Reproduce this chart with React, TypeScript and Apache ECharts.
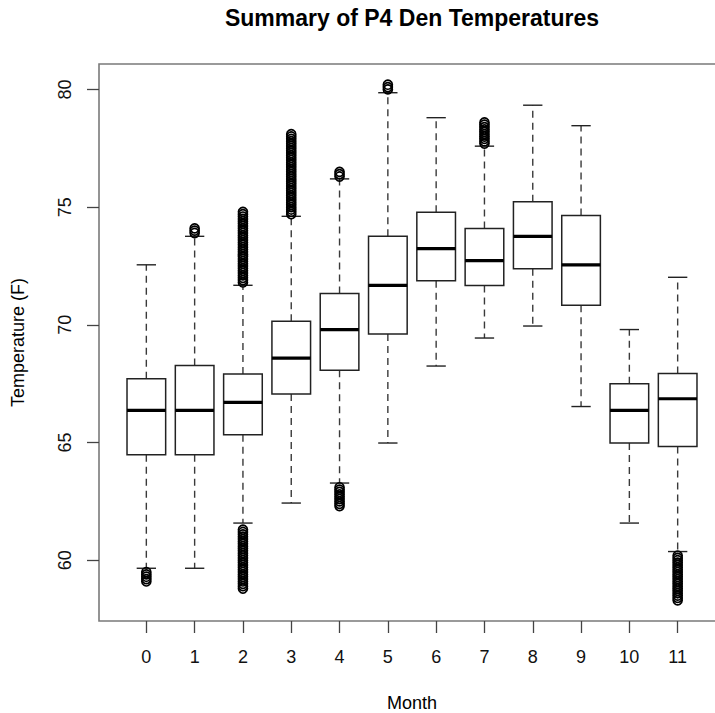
import React, { useEffect, useRef } from 'react';
import * as echarts from 'echarts';

const months = ['0', '1', '2', '3', '4', '5', '6', '7', '8', '9', '10', '11'];
const lowWhisker = [59.66, 59.66, 61.58, 62.43, 63.28, 64.98, 68.25, 69.44, 69.95, 66.53, 61.58, 60.37];
const q1 = [64.48, 64.48, 65.33, 67.06, 68.07, 69.61, 71.87, 71.67, 72.38, 70.83, 64.98, 64.83];
const median = [66.37, 66.37, 66.71, 68.59, 69.8, 71.68, 73.24, 72.73, 73.76, 72.55, 66.37, 66.86];
const q3 = [67.71, 68.27, 67.91, 70.15, 71.33, 73.76, 74.78, 74.09, 75.23, 74.64, 67.5, 67.93];
const highWhisker = [72.55, 73.76, 71.68, 74.61, 76.2, 79.86, 78.8, 77.59, 79.33, 78.46, 69.8, 72.02];

const outliers0 = [59.5, 59.4, 59.3, 59.2, 59.1];
const outliers1 = [73.9, 74.0, 74.1];
const outliers2 = [
  71.8, 71.9, 72.0, 72.1, 72.2, 72.3, 72.4, 72.5, 72.6, 72.7, 72.8, 72.9, 73.0, 73.1, 73.2, 73.3,
  73.4, 73.5, 73.6, 73.7, 73.8, 73.9, 74.0, 74.1, 74.2, 74.3, 74.4, 74.5, 74.6, 74.7, 74.8,
  58.8, 58.9, 59.0, 59.1, 59.2, 59.3, 59.4, 59.5, 59.6, 59.7, 59.8, 59.9, 60.0, 60.1, 60.2, 60.3,
  60.4, 60.5, 60.6, 60.7, 60.8, 60.9, 61.0, 61.1, 61.2, 61.3,
];
const outliers3 = [
  74.7, 74.8, 74.9, 75.0, 75.1, 75.2, 75.3, 75.4, 75.5, 75.6, 75.7, 75.8, 75.9, 76.0, 76.1, 76.2,
  76.3, 76.4, 76.5, 76.6, 76.7, 76.8, 76.9, 77.0, 77.1, 77.2, 77.3, 77.4, 77.5, 77.6, 77.7, 77.8,
  77.9, 78.0, 78.1,
];
const outliers4 = [76.3, 76.4, 76.5, 63.1, 63.0, 62.9, 62.8, 62.7, 62.6, 62.5, 62.4, 62.3];
const outliers5 = [80.0, 80.1, 80.2];
const outliers6: number[] = [];
const outliers7 = [77.7, 77.8, 77.9, 78.0, 78.1, 78.2, 78.3, 78.4, 78.5, 78.6];
const outliers8: number[] = [];
const outliers9: number[] = [];
const outliers10: number[] = [];
const outliers11 = [
  58.3, 58.4, 58.5, 58.6, 58.7, 58.8, 58.9, 59.0, 59.1, 59.2, 59.3, 59.4, 59.5, 59.6, 59.7, 59.8,
  59.9, 60.0, 60.1, 60.2,
];
const outlierLists = [
  outliers0, outliers1, outliers2, outliers3, outliers4, outliers5,
  outliers6, outliers7, outliers8, outliers9, outliers10, outliers11,
];

const yTicks = [60, 65, 70, 75, 80];
const xTicks = [0, 1, 2, 3, 4, 5, 6, 7, 8, 9, 10, 11];

const FONT = '"Liberation Sans", Arial, Helvetica, sans-serif';

export default function App() {
  const ref = useRef<HTMLDivElement>(null);
  useEffect(() => {
    if (!ref.current) return;
    const chart = echarts.init(ref.current, null, { renderer: 'svg' });
    const boxData = months.map((_, i) => [i, lowWhisker[i], q1[i], median[i], q3[i], highWhisker[i]]);
    const outlierData: number[][] = [];
    outlierLists.forEach((arr, i) => arr.forEach((v) => outlierData.push([i, v])));

    chart.setOption({
      animation: false,
      backgroundColor: '#fff',
      textStyle: { fontFamily: FONT },
      grid: {
        left: 99,
        right: -10,
        top: 64,
        bottom: 92,
        containLabel: false,
        outerBoundsMode: 'none',
        show: true,
        borderColor: '#7a7a7a',
        borderWidth: 1.6,
        backgroundColor: 'transparent',
      },
      graphic: [
        {
          type: 'text',
          x: 412,
          y: 18,
          style: {
            text: 'Summary of P4 Den Temperatures',
            font: `bold 23px ${FONT}`,
            fill: '#000',
            align: 'center',
            verticalAlign: 'middle',
            textAlign: 'center',
            textVerticalAlign: 'middle',
          },
        },
      ],
      xAxis: {
        type: 'value',
        min: -0.98,
        max: 11.98,
        name: 'Month',
        nameLocation: 'middle',
        nameGap: 73,
        nameTextStyle: { fontSize: 18, color: '#000', fontFamily: FONT, lineHeight: 18 },
        axisLine: { show: false, onZero: false },
        splitLine: { show: false },
        axisTick: {
          show: true,
          inside: false,
          length: 12,
          customValues: xTicks,
          lineStyle: { color: '#444', width: 1.3 },
        },
        axisLabel: {
          customValues: xTicks,
          formatter: (v: number) => months[Math.round(v)] ?? '',
          fontSize: 18,
          lineHeight: 18,
          color: '#111',
          margin: 27,
          fontFamily: FONT,
        },
      },
      yAxis: {
        type: 'value',
        min: 57.42,
        max: 81.08,
        name: 'Temperature (F)',
        nameLocation: 'middle',
        nameGap: 72,
        nameTextStyle: { fontSize: 18, color: '#000', fontFamily: FONT, lineHeight: 18 },
        axisLine: { show: false, onZero: false },
        splitLine: { show: false },
        axisTick: {
          show: true,
          inside: false,
          length: 12,
          customValues: yTicks,
          lineStyle: { color: '#444', width: 1.3 },
        },
        axisLabel: {
          customValues: yTicks,
          rotate: 90,
          fontSize: 18,
          lineHeight: 18,
          color: '#111',
          margin: 25,
          fontFamily: FONT,
        },
      },
      series: [
        {
          type: 'custom',
          data: boxData,
          encode: { x: 0, y: [1, 2, 3, 4, 5] },
          z: 2,
          renderItem: (params: any, api: any) => {
            const x = api.value(0);
            const lo = api.coord([x, api.value(1)]);
            const b1 = api.coord([x, api.value(2)]);
            const md = api.coord([x, api.value(3)]);
            const b3 = api.coord([x, api.value(4)]);
            const hi = api.coord([x, api.value(5)]);
            const w = api.size([0.8, 0])[0];
            const cx = lo[0];
            const half = w / 2;
            const cap = w / 4;
            const dashStyle = { stroke: '#3a3a3a', lineWidth: 1.4, lineDash: [7, 5] };
            const solid = { stroke: '#222', lineWidth: 1.4 };
            return {
              type: 'group',
              children: [
                { type: 'line', shape: { x1: cx, y1: b3[1], x2: cx, y2: hi[1] }, style: dashStyle },
                { type: 'line', shape: { x1: cx, y1: b1[1], x2: cx, y2: lo[1] }, style: dashStyle },
                { type: 'line', shape: { x1: cx - cap, y1: hi[1], x2: cx + cap, y2: hi[1] }, style: solid },
                { type: 'line', shape: { x1: cx - cap, y1: lo[1], x2: cx + cap, y2: lo[1] }, style: solid },
                {
                  type: 'rect',
                  shape: { x: cx - half, y: b3[1], width: w, height: b1[1] - b3[1] },
                  style: { fill: '#fff', stroke: '#222', lineWidth: 1.5 },
                },
                {
                  type: 'line',
                  shape: { x1: cx - half, y1: md[1], x2: cx + half, y2: md[1] },
                  style: { stroke: '#000', lineWidth: 3.2 },
                },
              ],
            };
          },
        },
        {
          type: 'scatter',
          data: outlierData,
          z: 3,
          symbol: 'circle',
          symbolSize: 9,
          itemStyle: { color: 'transparent', borderColor: '#000', borderWidth: 1.7, opacity: 1 },
          emphasis: { disabled: true },
        },
      ],
    });
    return () => chart.dispose();
  }, []);
  return (
    <div
      ref={ref}
      style={{ position: 'fixed', left: 0, top: 0, width: 715, height: 713, background: '#fff' }}
    />
  );
}
